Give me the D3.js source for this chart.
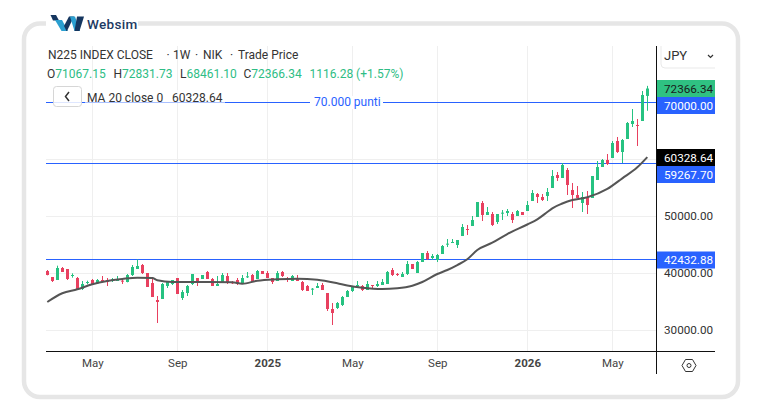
<!DOCTYPE html>
<html>
<head>
<meta charset="utf-8">
<script src="https://cdn.jsdelivr.net/npm/d3@7/dist/d3.min.js"></script>
<style>
html,body{margin:0;padding:0;background:#fff}
svg{display:block}
text{font-family:Roboto,"Liberation Sans",Arial,sans-serif}
</style>
</head>
<body>
<svg id="chart" width="761" height="420"></svg>
<script>
// Weekly candles, N225 index, oldest first
const opens = [40351,39298,38772,40877,40702,39474,39123,37193,38245,38772,38187,38772,38772,38596,38655,38655,38421,39649,40702,41403,40000,38245,35263,35439,37719,38070,39123,35614,36491,38070,39123,38947,40175,38947,37719,38245,39474,38421,38772,38070,39298,39649,38947,40351,40000,39123,38596,40175,39123,38596,39123,38421,37719,37134,37368,37895,36491,33684,33859,34386,35789,36842,37602,37719,37017,37894,37719,37894,38070,40526,39824,39298,39824,41579,39999,41930,43509,42631,42280,43333,45029,45263,44912,46490,47719,48245,49824,52280,50175,50351,48947,50409,50526,50351,50000,50701,50877,52632,53859,53333,53509,54912,57193,56667,58070,54562,53684,52281,53333,53158,56316,58597,59825,60176,63158,61228,63509,66140,65965,66667,71067.15];
const highs = [40526,39298,41286,41053,40702,39941,39298,38596,38655,38947,38947,39474,39123,39123,39474,39123,39824,41403,42398,41579,40000,39298,35965,38245,38421,38772,39123,37017,37895,39824,39123,39649,40351,39123,39474,40000,40000,38596,39123,39649,40175,39824,40526,40351,40351,39123,40351,40351,39298,39649,39649,38596,37895,37368,38245,38245,36491,34737,34912,35965,37017,37719,38596,37894,38596,37894,38596,38947,40350,40877,39999,40175,42105,41579,42105,43509,43859,43333,43333,44912,45965,45965,45789,48596,48421,50000,52456,52632,51579,50701,50351,51052,51228,50701,51052,50701,52632,54561,54035,53859,54912,58070,57720,59298,58421,55790,55263,54211,54386,57018,59649,60000,60877,63158,63860,63509,66492,68772,67018,71930,72831.73];
const lows = [39591,38421,38772,40175,38772,39181,37017,37017,38012,38012,38070,38362,37719,38421,38596,38070,38362,39474,40702,39824,37544,35789,31228,35439,37368,37895,36316,35263,35965,37895,37719,38947,38947,37719,37719,38245,38070,38070,37895,38070,39123,38421,38947,39824,39123,38070,38596,39298,38421,38596,38596,36842,36842,36140,37368,37017,33333,30877,33684,34210,35789,36666,37544,36842,37017,37368,37544,37894,38070,39474,39474,39298,39649,40701,39999,41930,42280,42280,41930,43333,44561,45263,44386,46490,46666,48245,49824,49123,50175,48245,48596,49298,50000,48772,50000,50175,50877,52632,52280,52632,52632,54912,56140,56667,53684,51404,53158,50702,50351,53158,56316,58597,58948,60176,61053,59298,63509,65614,62281,66667,68461.10];
const closes = [39649,38596,40877,40175,38947,39649,37193,38070,38421,38070,38772,38596,38421,38889,38772,38538,39649,41053,41228,40000,37544,35789,34912,38070,38421,38772,36316,36666,37719,39824,38421,39649,38947,37719,38070,39649,38421,38187,38070,39123,39415,38421,40351,39824,39123,38421,40000,39474,38947,39474,38596,37017,36842,37251,37719,37017,33684,32983,34737,35789,36842,37544,37894,37017,38070,37719,38070,38421,40175,39649,39649,39824,41579,40701,41930,43509,42456,42982,43158,44737,45146,45438,45789,48070,47544,49298,52456,50175,50701,48421,50351,50585,50877,49298,50877,50175,51930,54035,53333,52807,54210,57018,56667,58948,55439,53684,53158,53333,51930,57018,58597,59825,59123,62807,61228,63333,66316,66667,65907,71228,72366.34];

// 20-week moving average, read at selected weeks
const maWeeks = [0,3,6,9,12,15,18,21,22,25,30,37,39,42,46,50,54,58,60,63,67,70,73,75,78,80,82,84,86,89,92,96,98,100,101,103,105,108,112,115,118,120];
const maValues = [34910,36440,37140,38020,38600,38950,39180,39120,38720,38420,38420,38370,38120,38650,38900,39000,38810,38190,37810,37420,37190,37320,37770,38420,39820,40530,41400,42400,44040,45320,46840,48510,49420,50700,51350,52190,52810,53280,54740,56610,58540,60328.64];

const yTicks = [30000,40000,50000,60000,70000];
const shownYTicks = [30000,40000,50000];
const xTickDates = ["2024-05-06","2024-09-02","2025-01-06","2025-05-05","2025-09-01","2026-01-05","2026-05-04"];
const xTickLabels = ["May","Sep","2025","May","Sep","2026","May"];
const priceLines = [
  {value:70000, tag:"70000.00", title:"70.000 punti"},
  {value:59267.70, tag:"59267.70", title:""},
  {value:42432.88, tag:"42432.88", title:""}
];
const lastClose = 72366.34;
const lastMa = 60328.64;

const GREEN = "#2ebd85", UP = "#26c281", RED = "#e8405f", BLUE = "#2962ff", GRID = "#efefef";
const AXIS_X = 656, AXIS_Y = 351, LEFT = 46, TOP = 46, RIGHT_EDGE = 715;

const svg = d3.select("#chart");
const week = 7 * 864e5;
const firstWeek = Date.UTC(2024, 2, 4);
const weekDate = i => new Date(firstWeek + i * week);

const x = d3.scaleUtc()
  .domain([weekDate(0), weekDate(120)])
  .range([47.3, 647.3]);
const y = d3.scaleLinear()
  .domain([30000, 70000])
  .range([330, 102]);

// Card outline, with a gap in the top edge for the logo
svg.append("rect").attr("x",24).attr("y",23.5).attr("width",714).attr("height",373.5)
  .attr("rx",16).attr("fill","#fff").attr("stroke","#e6e6e6").attr("stroke-width",4.5);
svg.append("rect").attr("x",46).attr("y",18).attr("width",92).attr("height",12).attr("fill","#fff");

// Logo mark
const logo = svg.append("g").attr("transform","translate(50,15)");
logo.append("path").attr("fill","#15365f").attr("d","M0.5,0 L6,0 L9,5.5 L3,5.5 Z");
logo.append("path").attr("fill","#2a9fd0").attr("d","M5,5 L12,5 L18,16 L11.5,16 Z");
logo.append("path").attr("fill","#15365f").attr("d","M14,11 L19,1.5 L24,1.5 L17,16 L16.5,16 Z");
logo.append("path").attr("fill","#2a9fd0").attr("d","M20,1.5 L25,1.5 L30,16 L24.5,16 Z");
logo.append("path").attr("fill","#15365f").attr("d","M27,1.5 L34,1.5 L29.5,16 L24.5,16 Z");
svg.append("text").attr("x",87).attr("y",29).attr("font-size",13.5).attr("font-weight",500)
  .attr("letter-spacing",0.3).attr("fill","#1d3a63").text("Websim");

// Grid
const grid = svg.append("g");
grid.selectAll("line.h").data(yTicks).join("line").attr("class","h")
  .attr("x1",LEFT).attr("x2",AXIS_X).attr("y1",d=>Math.round(y(d))+0.5).attr("y2",d=>Math.round(y(d))+0.5)
  .attr("stroke",GRID);
grid.selectAll("line.v").data(xTickDates).join("line").attr("class","v")
  .attr("x1",d=>Math.round(x(new Date(d)))+0.5).attr("x2",d=>Math.round(x(new Date(d)))+0.5)
  .attr("y1",TOP).attr("y2",AXIS_Y).attr("stroke",GRID);

// Horizontal price lines
svg.append("g").selectAll("line").data(priceLines).join("line")
  .attr("x1",LEFT).attr("x2",AXIS_X)
  .attr("y1",d=>Math.round(y(d.value))+0.5).attr("y2",d=>Math.round(y(d.value))+0.5)
  .attr("stroke",BLUE).attr("stroke-width",1);

// Candles
const candles = d3.range(opens.length).map(i => ({i, o:opens[i], h:highs[i], l:lows[i], c:closes[i]}));
const cg = svg.append("g").selectAll("g").data(candles).join("g")
  .attr("fill",d=>d.c>=d.o?UP:RED);
cg.append("rect").attr("x",d=>Math.round(x(weekDate(d.i)))).attr("width",1)
  .attr("y",d=>y(d.h)).attr("height",d=>y(d.l)-y(d.h));
cg.append("rect").attr("x",d=>Math.round(x(weekDate(d.i)))-1).attr("width",3)
  .attr("y",d=>y(Math.max(d.o,d.c))).attr("height",d=>Math.max(1,Math.abs(y(d.o)-y(d.c))));

// Moving average
svg.append("path").datum(maWeeks.map((w,k)=>[w,maValues[k]]))
  .attr("fill","none").attr("stroke","#555").attr("stroke-width",2).attr("stroke-linejoin","round")
  .attr("d",d3.line().x(d=>x(weekDate(d[0]))).y(d=>y(d[1])).curve(d3.curveMonotoneX));

// Legend block
const label = (tx,ty,t,fill,size) => svg.append("text").attr("x",tx).attr("y",ty)
  .attr("font-size",size||12).attr("fill",fill||"#333").text(t);
label(48,59,"N225 INDEX CLOSE");
label(166.5,59,"·");
label(173,59,"1W");
label(195,59,"·");
label(203,59,"NIK");
label(230,59,"·");
label(238,59,"Trade Price");
const ohlc = [["O","71067.15",47],["H","72831.73",113.5],["L","68461.10",180],["C","72366.34",243.5]];
ohlc.forEach(([k,v,px]) => {
  const t = label(px,78,k);
  t.append("tspan").attr("fill",GREEN).text(v);
});
label(309.5,78,"1116.28 (+1.57%)",GREEN);

// Label on the 70,000 line
svg.append("rect").attr("x",310).attr("y",96).attr("width",73).attr("height",13).attr("fill","#fff");
label(314,106,"70.000 punti",BLUE);

// Collapse button and indicator row
svg.append("rect").attr("x",53.5).attr("y",86.5).attr("width",28).attr("height",20).attr("rx",3)
  .attr("fill","#fff").attr("fill-opacity",0.85).attr("stroke","#d6d6d6");
svg.append("path").attr("d","M69,92 L65.5,96.5 L69,101").attr("fill","none").attr("stroke","#333").attr("stroke-width",1.5);
svg.append("rect").attr("x",85).attr("y",90).attr("width",140).attr("height",13).attr("fill","#fff").attr("fill-opacity",0.6);
label(87,102,"MA 20 close 0");
label(172,102,"60328.64");

// Axis rules and scale labels
const yAxis = d3.axisRight(y).tickValues(shownYTicks).tickSize(0).tickPadding(8).tickFormat(d3.format(".2f"));
const ya = svg.append("g").attr("transform",`translate(${AXIS_X},0)`).call(yAxis);
ya.select(".domain").remove();
ya.selectAll("text").attr("font-size",11.7).attr("fill","#333").attr("font-family",null);

const xAxis = d3.axisBottom(x).tickValues(xTickDates.map(d=>new Date(d))).tickSize(0).tickPadding(8)
  .tickFormat((d,i)=>xTickLabels[i]);
const xa = svg.append("g").attr("transform",`translate(0,${AXIS_Y})`).call(xAxis);
xa.select(".domain").remove();
xa.selectAll("text").attr("font-size",11.5).attr("fill","#444").attr("font-family",null)
  .attr("font-weight",(d,i)=>/^\d/.test(xTickLabels[i])?700:400);

svg.append("line").attr("x1",AXIS_X+0.5).attr("x2",AXIS_X+0.5).attr("y1",TOP).attr("y2",374).attr("stroke","#111");
svg.append("line").attr("x1",LEFT).attr("x2",RIGHT_EDGE).attr("y1",AXIS_Y+0.5).attr("y2",AXIS_Y+0.5).attr("stroke","#111");

// Price tags on the scale
const tags = [
  {value:lastClose, t:"72366.34", bg:"#2fc182", fg:"#1a1a1a", cy:88.5},
  {value:70000, t:"70000.00", bg:BLUE, fg:"#fff", cy:105.5},
  {value:lastMa, t:"60328.64", bg:"#000", fg:"#fff", cy:157.5},
  {value:59267.70, t:"59267.70", bg:BLUE, fg:"#fff", cy:174.5},
  {value:42432.88, t:"42432.88", bg:BLUE, fg:"#fff", cy:260}
];
const tg = svg.append("g").selectAll("g").data(tags).join("g");
tg.append("rect").attr("x",AXIS_X+1).attr("width",RIGHT_EDGE-AXIS_X-1).attr("y",d=>d.cy-8.5).attr("height",17).attr("fill",d=>d.bg);
tg.append("text").attr("x",664).attr("y",d=>d.cy+4.2).attr("font-size",11.7)
  .attr("fill",d=>d.fg).text(d=>d.t);

// Currency selector
svg.append("path").attr("d","M661,46 L661,64 Q661,68 665,68 L715,68").attr("fill","none").attr("stroke","#e9e9e9");
label(664,60,"JPY","#333",13);
svg.append("path").attr("d","M708,55 L710.5,57.5 L713,55").attr("fill","none").attr("stroke","#333").attr("stroke-width",1.2);

// Settings glyph
svg.append("path").attr("d","M682,365.5 L685.5,359.5 L692.5,359.5 L696,365.5 L692.5,371.5 L685.5,371.5 Z").attr("fill","none").attr("stroke","#333");
svg.append("circle").attr("cx",689).attr("cy",365.5).attr("r",2).attr("fill","none").attr("stroke","#333");
</script>
</body>
</html>
